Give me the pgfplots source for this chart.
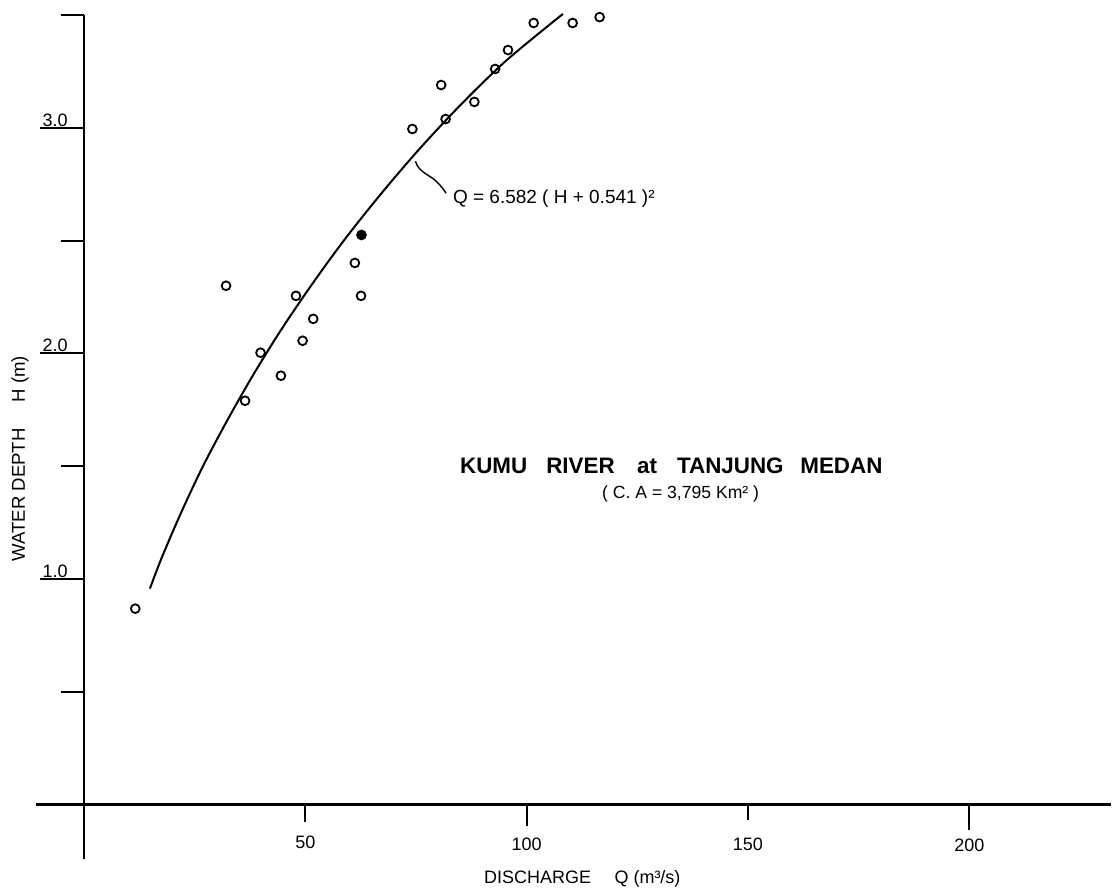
\documentclass[border=0pt]{standalone}
\usepackage{fontspec}
\setmainfont{Liberation Sans}
\usepackage{pgfplots}
\pgfplotsset{compat=1.18}

\newcommand{\tickfont}{\fontsize{9}{10}\selectfont}

\begin{document}
\begin{tikzpicture}
\begin{axis}[
    scale only axis,
    width=537.8pt, height=422.5pt,
    xmin=-10.8, xmax=232, ymin=-0.244, ymax=3.5,
    axis lines=middle,
    axis line style={-, line width=1.1pt},
    xtick=\empty, ytick=\empty,
    clip=false,
]
% page frame, same proportions as the scan
\path (axis cs:-18.96,-0.3855) rectangle (axis cs:232.05,3.567);

% measured points
\addplot[only marks, mark=o, mark size=2.2pt, mark options={line width=0.9pt}]
    coordinates {
    (11.6,0.868) (36.4,1.790) (32.1,2.300) (39.9,2.003) (44.5,1.901)
    (47.9,2.255) (49.4,2.056) (51.8,2.153) (61.2,2.401) (62.6,2.255)
    (74.2,2.995) (80.7,3.190) (81.7,3.039) (88.2,3.115) (92.9,3.261)
    (95.8,3.345) (101.6,3.465) (110.4,3.465) (116.5,3.491)
    };
\addplot[only marks, mark=*, mark size=2.2pt, mark options={line width=0.9pt}]
    coordinates {(62.7,2.525)};

% rating curve
\addplot[smooth, line width=1pt]
    coordinates {
    (14.9,0.957) (17.7,1.1) (22.1,1.3) (26.9,1.5) (32.3,1.7) (38.1,1.9)
    (44.4,2.1) (51.3,2.3) (58.7,2.5) (66.8,2.7) (75.5,2.9) (85.0,3.1)
    (95.5,3.3) (108.2,3.505)
    };

% ticks
\draw[line width=1pt] (axis cs:50,0) -- ([yshift=-9pt]axis cs:50,0);
\draw[line width=1pt] (axis cs:100,0) -- ([yshift=-11pt]axis cs:100,0);
\draw[line width=1pt] (axis cs:150,0) -- ([yshift=-8pt]axis cs:150,0);
\draw[line width=1pt] (axis cs:200,0) -- ([yshift=-13pt]axis cs:200,0);
\draw[line width=1pt] (axis cs:0,1) -- ([xshift=-22pt]axis cs:0,1);
\draw[line width=1pt] (axis cs:0,2) -- ([xshift=-22pt]axis cs:0,2);
\draw[line width=1pt] (axis cs:0,3) -- ([xshift=-22pt]axis cs:0,3);
\draw[line width=1pt] (axis cs:0,0.5) -- ([xshift=-11.5pt]axis cs:0,0.5);
\draw[line width=1pt] (axis cs:0,1.5) -- ([xshift=-11.5pt]axis cs:0,1.5);
\draw[line width=1pt] (axis cs:0,2.5) -- ([xshift=-11.5pt]axis cs:0,2.5);
\draw[line width=1pt] (axis cs:0,3.5) -- ([xshift=-11.5pt]axis cs:0,3.5);

% tick labels
\node[font=\tickfont] at (axis cs:50,-0.168) {50};
\node[font=\tickfont] at (axis cs:100,-0.175) {100};
\node[font=\tickfont] at (axis cs:150,-0.175) {150};
\node[font=\tickfont] at (axis cs:200,-0.18) {200};
\node[font=\tickfont, anchor=south west, inner sep=0.6pt] at (axis cs:-9.7,3) {3.0};
\node[font=\tickfont, anchor=south west, inner sep=0.6pt] at (axis cs:-9.7,2) {2.0};
\node[font=\tickfont, anchor=south west, inner sep=0.6pt] at (axis cs:-9.7,1) {1.0};

% axis titles
\node[font=\fontsize{9}{10}\selectfont] at (axis cs:112.6,-0.328)
    {DISCHARGE\hspace{1.3em}Q (m³/s)};
\node[font=\fontsize{9.3}{10}\selectfont, rotate=90] at (axis cs:-14.4,1.533)
    {WATER DEPTH\hspace{1.4em}H (m)};

% station name
\node[font=\fontsize{11.2}{13}\selectfont\bfseries] at (axis cs:132.7,1.502)
    {KUMU\hspace{0.85em}RIVER\hspace{1em}at\hspace{0.9em}TANJUNG\hspace{0.75em}MEDAN};
\node[font=\fontsize{8.8}{10}\selectfont] at (axis cs:134.8,1.378)
    {( C. A = 3,795 Km² )};

% equation with leader
\draw[line width=0.7pt] (axis cs:74.9,2.852) .. controls (axis cs:75.6,2.80) and (axis cs:78.5,2.79) .. (axis cs:80.0,2.755)
    .. controls (axis cs:81.0,2.735) and (axis cs:81.5,2.72) .. (axis cs:81.8,2.71);
\node[font=\fontsize{9.5}{11}\selectfont, anchor=west, inner sep=0pt] at (axis cs:83.3,2.688)
    {Q = 6.582 ( H + 0.541 )²};
\end{axis}
\end{tikzpicture}
\end{document}
